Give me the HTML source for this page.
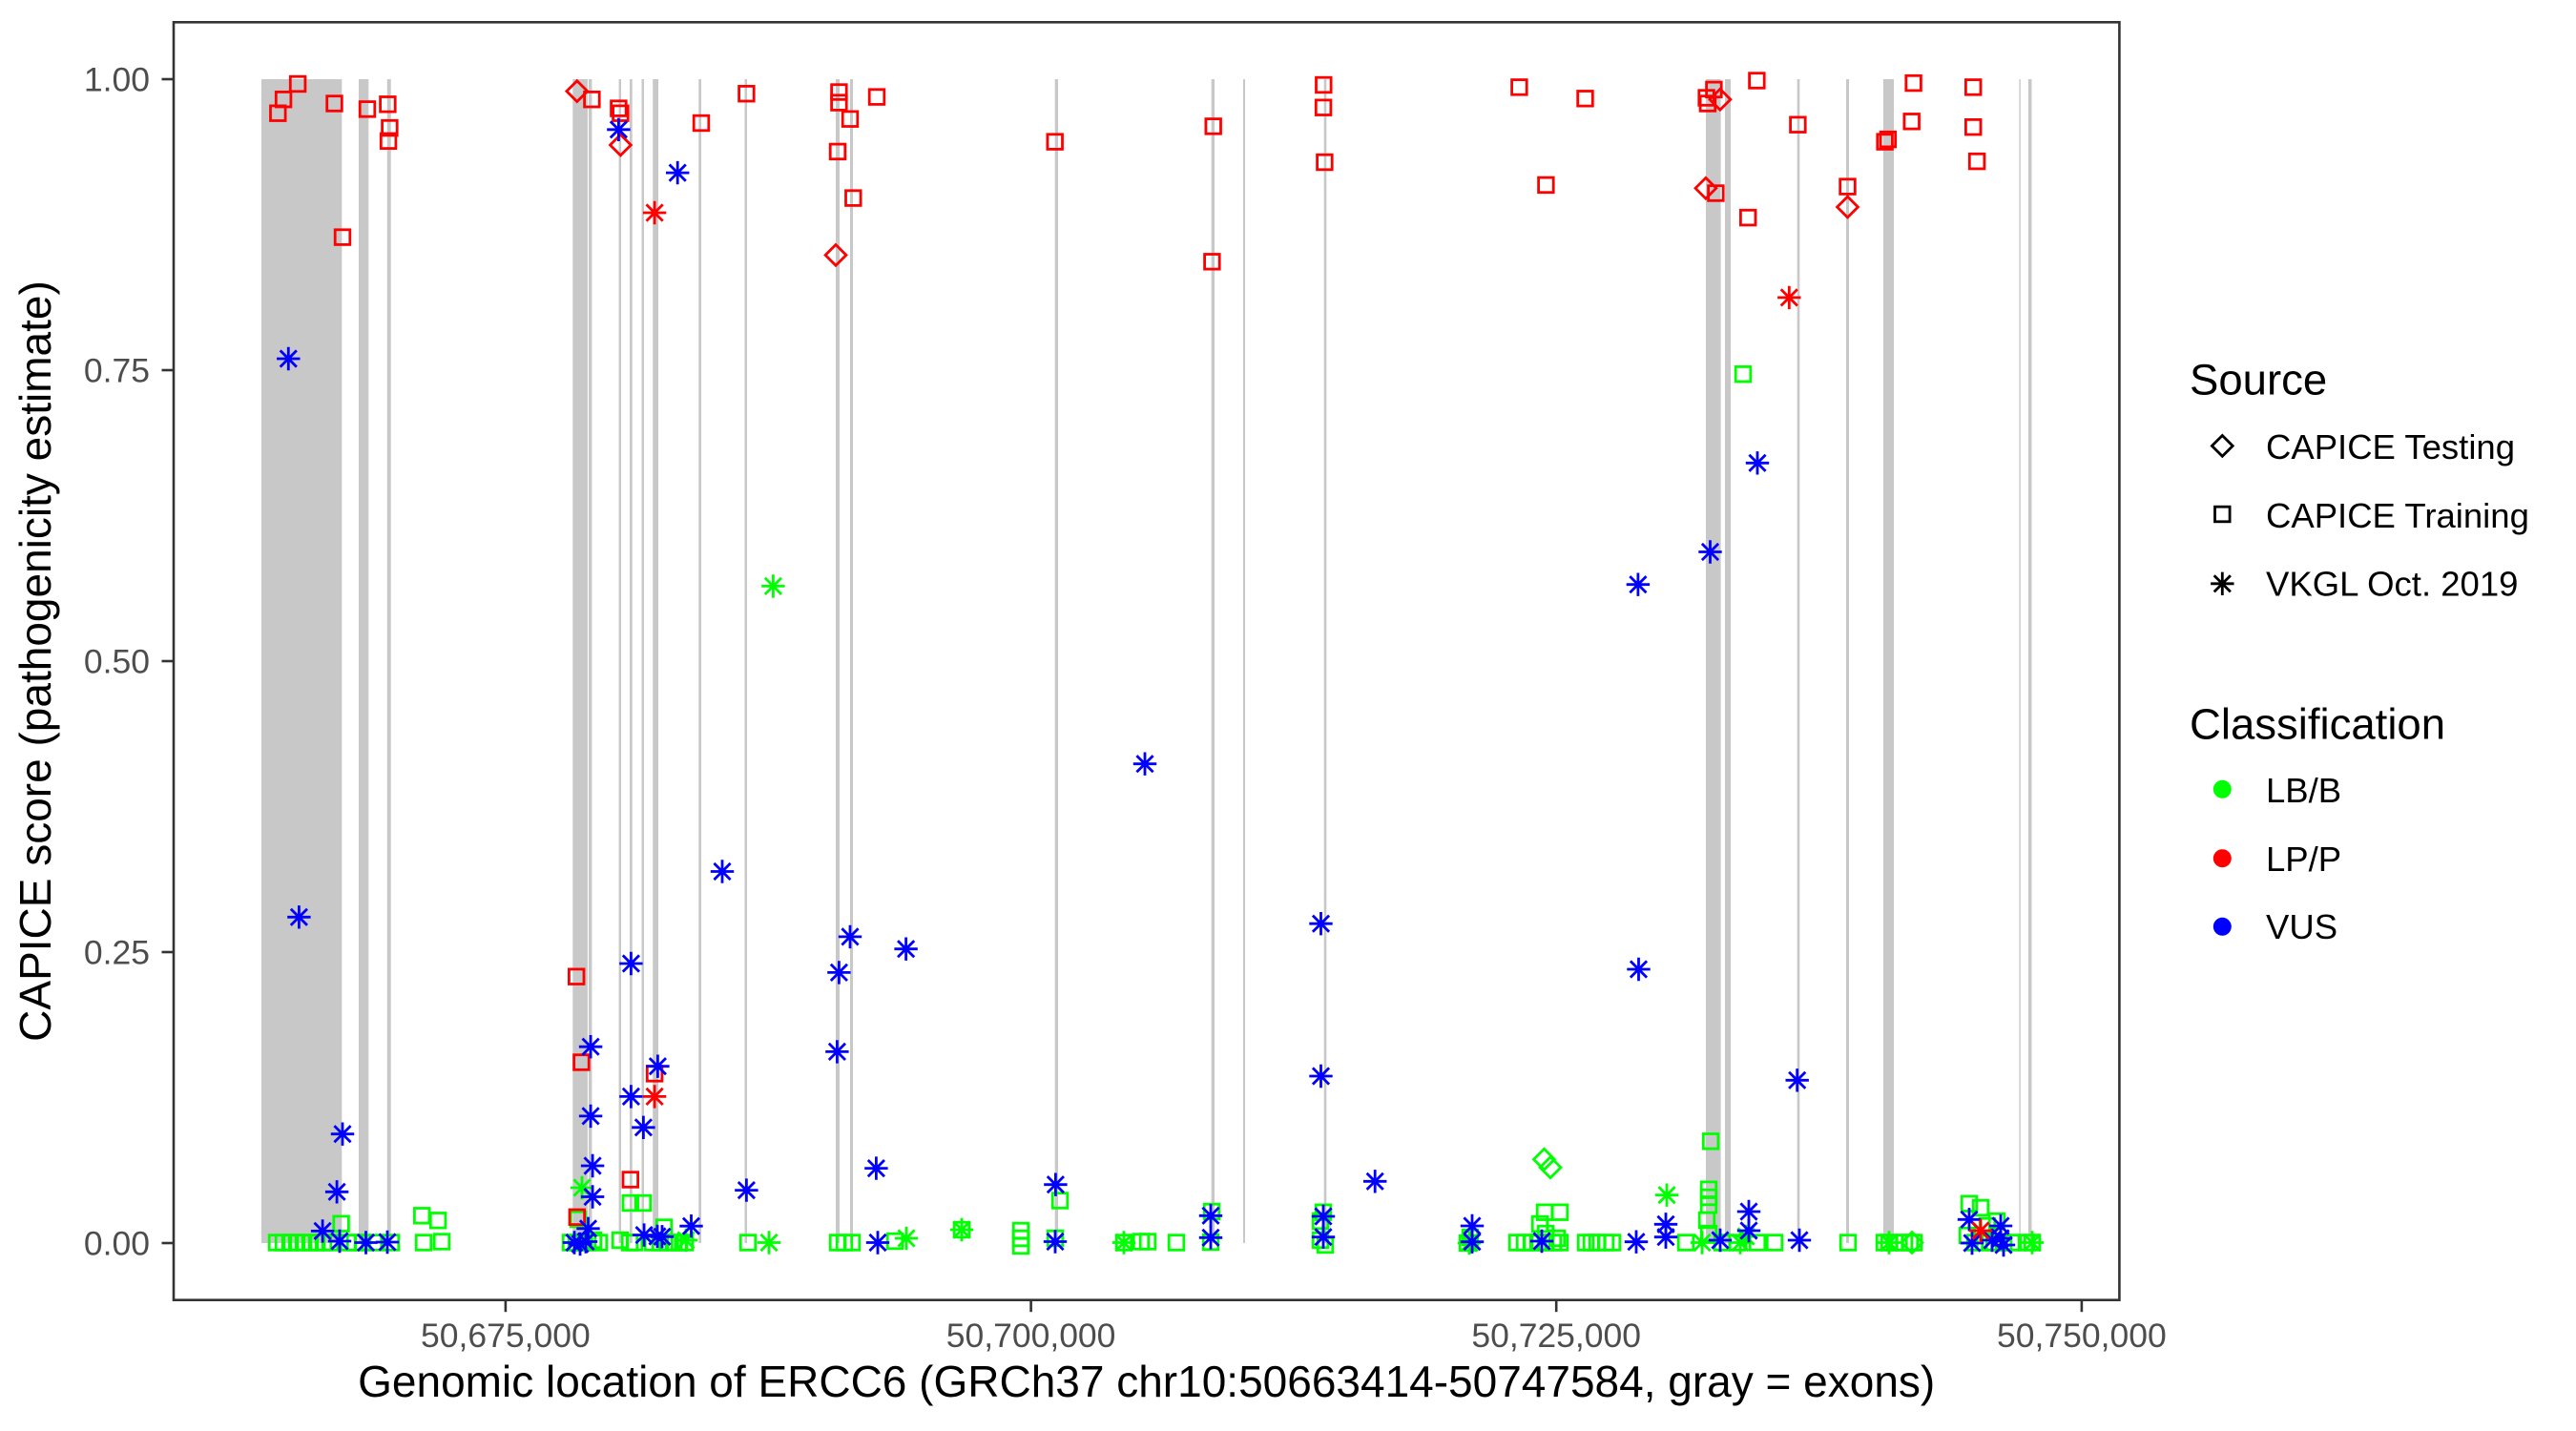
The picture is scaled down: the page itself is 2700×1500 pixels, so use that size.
<!DOCTYPE html>
<html>
<head>
<meta charset="utf-8">
<style>
html,body{margin:0;padding:0;background:#fff;}
svg{display:block;}
text{font-family:"Liberation Sans",Arial,sans-serif;}
.g{stroke:#00FF00;}
.r{stroke:#FF0000;}
.b{stroke:#0000FF;}
.k{stroke:#000;}
use{fill:none;stroke-width:2.8;}
</style>
</head>
<body>
<svg width="2700" height="1500" viewBox="0 0 2700 1500" xmlns="http://www.w3.org/2000/svg">
<defs>
<rect id="sq" x="-7.8" y="-7.8" width="15.6" height="15.6"/>
<path id="dm" d="M0,-10.9L10.9,0L0,10.9L-10.9,0Z"/>
<path id="as" d="M0,-12.2V12.2M-12.2,0H12.2M-8.6,-8.6L8.6,8.6M-8.6,8.6L8.6,-8.6"/>
</defs>
<rect x="0" y="0" width="2700" height="1500" fill="#fff"/>

<!-- exon bands -->
<g fill="#C8C8C8">
<rect x="274" y="83" width="84.3" height="1220"/>
<rect x="376" y="83" width="10.3" height="1220"/>
<rect x="405.8" y="83" width="3.9" height="1220"/>
<rect x="600.3" y="83" width="15.6" height="1220"/>
<rect x="617" y="83" width="3.4" height="1220"/>
<rect x="648.6" y="83" width="2.4" height="1220"/>
<rect x="660" y="83" width="2.7" height="1220"/>
<rect x="672.5" y="83" width="2.5" height="1220"/>
<rect x="684.2" y="83" width="5.8" height="1220"/>
<rect x="732.3" y="83" width="2.7" height="1220"/>
<rect x="780.5" y="83" width="2.5" height="1220"/>
<rect x="876" y="83" width="4" height="1220"/>
<rect x="891" y="83" width="3" height="1220"/>
<rect x="1105.7" y="83" width="3.3" height="1220"/>
<rect x="1269.7" y="83" width="3.3" height="1220"/>
<rect x="1303" y="83" width="2" height="1220"/>
<rect x="1387.7" y="83" width="2.6" height="1220"/>
<rect x="1788" y="83" width="15.6" height="1220"/>
<rect x="1808" y="83" width="6" height="1220"/>
<rect x="1883.7" y="83" width="2.6" height="1220"/>
<rect x="1935" y="83" width="3" height="1220"/>
<rect x="1974" y="83" width="11" height="1220"/>
<rect x="2116.4" y="83" width="1.4" height="1220"/>
<rect x="2126" y="83" width="3.5" height="1220"/>
</g>

<!-- green squares -->
<g>
<use href="#sq" class="g" x="290" y="1302.5"/><use href="#sq" class="g" x="297" y="1302.5"/><use href="#sq" class="g" x="304" y="1302.5"/><use href="#sq" class="g" x="311" y="1302.5"/><use href="#sq" class="g" x="318" y="1302.5"/><use href="#sq" class="g" x="325" y="1302.5"/><use href="#sq" class="g" x="332" y="1302.5"/><use href="#sq" class="g" x="339" y="1302.5"/><use href="#sq" class="g" x="346" y="1302.5"/>
<use href="#sq" class="g" x="357.6" y="1282.7"/><use href="#sq" class="g" x="365" y="1302.5"/><use href="#sq" class="g" x="372" y="1302.5"/><use href="#sq" class="g" x="380" y="1302.5"/><use href="#sq" class="g" x="392" y="1302.5"/><use href="#sq" class="g" x="410" y="1302.5"/>
<use href="#sq" class="g" x="442.2" y="1274.3"/><use href="#sq" class="g" x="459.1" y="1279.3"/><use href="#sq" class="g" x="444" y="1302.5"/><use href="#sq" class="g" x="463" y="1301.5"/>
<use href="#sq" class="g" x="598" y="1302.5"/><use href="#sq" class="g" x="604" y="1302.5"/><use href="#sq" class="g" x="610" y="1302.5"/><use href="#sq" class="g" x="616" y="1302.5"/><use href="#sq" class="g" x="622" y="1300"/><use href="#sq" class="g" x="628" y="1302.5"/><use href="#sq" class="g" x="606" y="1278"/>
<use href="#sq" class="g" x="660.8" y="1261"/><use href="#sq" class="g" x="674" y="1261"/><use href="#sq" class="g" x="696" y="1286.5"/>
<use href="#sq" class="g" x="650" y="1300"/><use href="#sq" class="g" x="660" y="1302.5"/><use href="#sq" class="g" x="665" y="1302.5"/><use href="#sq" class="g" x="684" y="1302.5"/><use href="#sq" class="g" x="692" y="1302.5"/><use href="#sq" class="g" x="700" y="1302.5"/><use href="#sq" class="g" x="706" y="1302.5"/><use href="#sq" class="g" x="712" y="1302.5"/><use href="#sq" class="g" x="718" y="1302.5"/>
<use href="#sq" class="g" x="784" y="1302.5"/><use href="#sq" class="g" x="878" y="1302.5"/><use href="#sq" class="g" x="885" y="1302.5"/><use href="#sq" class="g" x="893" y="1302.5"/><use href="#sq" class="g" x="938" y="1301"/>
<use href="#sq" class="g" x="1008" y="1289"/><use href="#sq" class="g" x="1070" y="1290"/><use href="#sq" class="g" x="1070" y="1298"/><use href="#sq" class="g" x="1070" y="1306"/><use href="#sq" class="g" x="1106" y="1298"/><use href="#sq" class="g" x="1111" y="1258.5"/><use href="#sq" class="g" x="1178" y="1302.5"/><use href="#sq" class="g" x="1196" y="1301.5"/><use href="#sq" class="g" x="1203" y="1301.5"/><use href="#sq" class="g" x="1233" y="1302.5"/>
<use href="#sq" class="g" x="1270" y="1270"/><use href="#sq" class="g" x="1269" y="1302"/><use href="#sq" class="g" x="1387" y="1270.7"/><use href="#sq" class="g" x="1384" y="1280"/><use href="#sq" class="g" x="1384" y="1300"/><use href="#sq" class="g" x="1389" y="1305"/>
<use href="#sq" class="g" x="1541" y="1297"/><use href="#sq" class="g" x="1538" y="1303"/>
<use href="#sq" class="g" x="1590" y="1302.5"/><use href="#sq" class="g" x="1598" y="1302.5"/><use href="#sq" class="g" x="1605" y="1302.5"/><use href="#sq" class="g" x="1612" y="1302.5"/><use href="#sq" class="g" x="1620" y="1302.5"/><use href="#sq" class="g" x="1628" y="1302.5"/><use href="#sq" class="g" x="1635" y="1302.5"/>
<use href="#sq" class="g" x="1619" y="1270.7"/><use href="#sq" class="g" x="1635" y="1270.7"/><use href="#sq" class="g" x="1614" y="1283"/><use href="#sq" class="g" x="1620" y="1293"/><use href="#sq" class="g" x="1632" y="1298"/>
<use href="#sq" class="g" x="1662" y="1302.5"/><use href="#sq" class="g" x="1668" y="1302.5"/><use href="#sq" class="g" x="1674" y="1302.5"/><use href="#sq" class="g" x="1683" y="1302.5"/><use href="#sq" class="g" x="1690" y="1302.5"/>
<use href="#sq" class="g" x="1767" y="1302.5"/><use href="#sq" class="g" x="1789" y="1279"/><use href="#sq" class="g" x="1791" y="1293"/><use href="#sq" class="g" x="1791" y="1246.7"/><use href="#sq" class="g" x="1791" y="1255"/><use href="#sq" class="g" x="1791" y="1263.3"/><use href="#sq" class="g" x="1793.1" y="1196.3"/><use href="#sq" class="g" x="1805" y="1302.5"/><use href="#sq" class="g" x="1821" y="1302.5"/><use href="#sq" class="g" x="1842" y="1302.5"/><use href="#sq" class="g" x="1860" y="1302.5"/>
<use href="#sq" class="g" x="1827" y="392.2"/>
<use href="#sq" class="g" x="1937" y="1302.5"/><use href="#sq" class="g" x="1975" y="1302.5"/><use href="#sq" class="g" x="1980" y="1302.5"/><use href="#sq" class="g" x="1986" y="1302.5"/><use href="#sq" class="g" x="1996" y="1302.5"/><use href="#sq" class="g" x="2002" y="1302.5"/><use href="#sq" class="g" x="2006" y="1302.5"/>
<use href="#sq" class="g" x="2064" y="1261.7"/><use href="#sq" class="g" x="2076" y="1266"/><use href="#sq" class="g" x="2062" y="1295"/><use href="#sq" class="g" x="2070" y="1302.5"/><use href="#sq" class="g" x="2080" y="1302.5"/><use href="#sq" class="g" x="2090" y="1302.5"/><use href="#sq" class="g" x="2100" y="1302.5"/><use href="#sq" class="g" x="2110" y="1302.5"/><use href="#sq" class="g" x="2124" y="1302.5"/><use href="#sq" class="g" x="2130" y="1302.5"/><use href="#sq" class="g" x="2083" y="1285"/><use href="#sq" class="g" x="2093" y="1280"/>
</g>
<!-- green diamonds & asterisks -->
<g>
<use href="#dm" class="g" x="1618.4" y="1215.2"/><use href="#dm" class="g" x="1625" y="1223.7"/><use href="#dm" class="g" x="2004" y="1302.5"/>
<use href="#as" class="g" x="810.4" y="614.4"/><use href="#as" class="g" x="610" y="1245"/><use href="#as" class="g" x="719" y="1300"/><use href="#as" class="g" x="806" y="1302.5"/><use href="#as" class="g" x="950" y="1298"/><use href="#as" class="g" x="1008" y="1289"/><use href="#as" class="g" x="1178" y="1302.5"/><use href="#as" class="g" x="1747" y="1252.7"/><use href="#as" class="g" x="1540" y="1303"/><use href="#as" class="g" x="1824" y="1302.5"/><use href="#as" class="g" x="1784" y="1302.5"/><use href="#as" class="g" x="1980" y="1302.5"/><use href="#as" class="g" x="2130" y="1302.5"/><use href="#as" class="g" x="1830" y="1296"/>
</g>

<!-- red -->
<g>
<use href="#sq" class="r" x="291.3" y="118.7"/><use href="#sq" class="r" x="297.1" y="104.2"/><use href="#sq" class="r" x="312.1" y="88"/><use href="#sq" class="r" x="350.5" y="108.5"/><use href="#sq" class="r" x="385" y="114.4"/><use href="#sq" class="r" x="406.4" y="109.3"/><use href="#sq" class="r" x="408.4" y="134.1"/><use href="#sq" class="r" x="407.1" y="147.8"/><use href="#sq" class="r" x="359" y="248.6"/>
<use href="#dm" class="r" x="604.8" y="95.6"/><use href="#dm" class="r" x="650.4" y="152"/>
<use href="#sq" class="r" x="620.4" y="104.2"/><use href="#sq" class="r" x="648.4" y="113.6"/><use href="#sq" class="r" x="650.4" y="118.7"/><use href="#sq" class="r" x="735" y="129"/><use href="#sq" class="r" x="782.4" y="98.2"/><use href="#sq" class="r" x="879.4" y="96.5"/><use href="#sq" class="r" x="879.4" y="107.6"/><use href="#sq" class="r" x="891" y="124.7"/><use href="#sq" class="r" x="919" y="101.6"/><use href="#sq" class="r" x="878" y="158.9"/><use href="#sq" class="r" x="894.3" y="207.6"/>
<use href="#dm" class="r" x="876" y="267.4"/>
<use href="#sq" class="r" x="1105.7" y="148.6"/>
<use href="#sq" class="r" x="604.2" y="1023.7"/><use href="#sq" class="r" x="609.4" y="1113.5"/><use href="#sq" class="r" x="686.1" y="1125.4"/><use href="#sq" class="r" x="660.8" y="1236.5"/><use href="#sq" class="r" x="604.8" y="1275.8"/>
<use href="#sq" class="r" x="1387.3" y="89"/><use href="#sq" class="r" x="1387.1" y="112.7"/><use href="#sq" class="r" x="1271.7" y="132.4"/><use href="#sq" class="r" x="1388.4" y="170"/><use href="#sq" class="r" x="1270.4" y="274.3"/><use href="#sq" class="r" x="1592.4" y="91.4"/><use href="#sq" class="r" x="1661.5" y="103.3"/><use href="#sq" class="r" x="1620.4" y="193.9"/><use href="#sq" class="r" x="1788.6" y="102.5"/><use href="#sq" class="r" x="1796.4" y="93.9"/><use href="#sq" class="r" x="1789.9" y="108.5"/>
<use href="#dm" class="r" x="1802.9" y="104.2"/>
<use href="#sq" class="r" x="1841.4" y="84.5"/><use href="#sq" class="r" x="1884.4" y="130.7"/>
<use href="#dm" class="r" x="1787.9" y="197.3"/>
<use href="#sq" class="r" x="1798.4" y="202.5"/><use href="#sq" class="r" x="1832.2" y="228.1"/><use href="#sq" class="r" x="2005.6" y="87.1"/><use href="#sq" class="r" x="2003.7" y="127.3"/><use href="#sq" class="r" x="1978.9" y="146.1"/><use href="#sq" class="r" x="1975.6" y="148.6"/><use href="#sq" class="r" x="1936.5" y="195.6"/>
<use href="#dm" class="r" x="1936.5" y="217"/>
<use href="#sq" class="r" x="2068.2" y="91.4"/><use href="#sq" class="r" x="2068.2" y="133.2"/><use href="#sq" class="r" x="2072.1" y="169.1"/>
<use href="#as" class="r" x="686.1" y="223"/><use href="#as" class="r" x="686.1" y="1149.4"/><use href="#as" class="r" x="1875.3" y="311.9"/>
</g>

<!-- blue asterisks -->
<g>
<use href="#as" class="b" x="648.4" y="135.8"/><use href="#as" class="b" x="710.2" y="181.1"/><use href="#as" class="b" x="302.3" y="376"/><use href="#as" class="b" x="1200" y="800.7"/><use href="#as" class="b" x="757" y="913.5"/><use href="#as" class="b" x="313.4" y="961.3"/><use href="#as" class="b" x="891" y="981.9"/><use href="#as" class="b" x="949.6" y="994.7"/><use href="#as" class="b" x="661.4" y="1010"/><use href="#as" class="b" x="879.4" y="1019.4"/><use href="#as" class="b" x="619.1" y="1097.2"/><use href="#as" class="b" x="877.4" y="1102.4"/><use href="#as" class="b" x="689.4" y="1117.7"/><use href="#as" class="b" x="661.4" y="1149.4"/><use href="#as" class="b" x="619.1" y="1169.9"/><use href="#as" class="b" x="674.4" y="1181.8"/><use href="#as" class="b" x="359" y="1188.7"/><use href="#as" class="b" x="621.1" y="1222"/><use href="#as" class="b" x="918.4" y="1224.6"/><use href="#as" class="b" x="1106.4" y="1241.7"/><use href="#as" class="b" x="353.1" y="1249.3"/><use href="#as" class="b" x="782.4" y="1247.6"/><use href="#as" class="b" x="621.1" y="1254.5"/><use href="#as" class="b" x="338.1" y="1290.4"/><use href="#as" class="b" x="616.5" y="1287.8"/><use href="#as" class="b" x="724.5" y="1285.2"/><use href="#as" class="b" x="675.1" y="1294.6"/><use href="#as" class="b" x="694" y="1296.3"/><use href="#as" class="b" x="689" y="1296"/>
<use href="#as" class="b" x="356" y="1301"/><use href="#as" class="b" x="383.5" y="1302.5"/><use href="#as" class="b" x="406" y="1302"/><use href="#as" class="b" x="602" y="1302.5"/><use href="#as" class="b" x="614" y="1301.5"/><use href="#as" class="b" x="608" y="1304"/><use href="#as" class="b" x="920" y="1302.5"/><use href="#as" class="b" x="1106" y="1301.5"/>
<use href="#as" class="b" x="1842" y="485.3"/><use href="#as" class="b" x="1792.5" y="578.5"/><use href="#as" class="b" x="1716.9" y="612.7"/><use href="#as" class="b" x="1384.5" y="968.2"/><use href="#as" class="b" x="1717.5" y="1016"/><use href="#as" class="b" x="1384.5" y="1128"/><use href="#as" class="b" x="1883.7" y="1132.3"/><use href="#as" class="b" x="1441.2" y="1238.3"/><use href="#as" class="b" x="1269" y="1274.3"/><use href="#as" class="b" x="1269" y="1297.3"/><use href="#as" class="b" x="1387" y="1275"/><use href="#as" class="b" x="1387" y="1296.7"/><use href="#as" class="b" x="1543" y="1285"/><use href="#as" class="b" x="1543" y="1301.7"/><use href="#as" class="b" x="1616" y="1301"/><use href="#as" class="b" x="1715" y="1301.7"/><use href="#as" class="b" x="1746" y="1283.3"/><use href="#as" class="b" x="1746" y="1296.7"/><use href="#as" class="b" x="1803" y="1300"/><use href="#as" class="b" x="1833" y="1270"/><use href="#as" class="b" x="1833" y="1290"/><use href="#as" class="b" x="1886" y="1300"/><use href="#as" class="b" x="2064" y="1278.3"/><use href="#as" class="b" x="2067" y="1303"/><use href="#as" class="b" x="2097" y="1285"/><use href="#as" class="b" x="2097" y="1298"/><use href="#as" class="b" x="2100" y="1305"/><use href="#as" class="b" x="2088" y="1300"/>
</g>
<use href="#as" class="r" x="2076" y="1290"/>

<!-- panel border -->
<rect x="182" y="23.3" width="2039.4" height="1339.4" fill="none" stroke="#333333" stroke-width="2.6"/>

<!-- ticks -->
<g stroke="#333333" stroke-width="2.6">
<line x1="169.5" y1="83" x2="182" y2="83"/>
<line x1="169.5" y1="388" x2="182" y2="388"/>
<line x1="169.5" y1="693" x2="182" y2="693"/>
<line x1="169.5" y1="998" x2="182" y2="998"/>
<line x1="169.5" y1="1303" x2="182" y2="1303"/>
<line x1="529.9" y1="1362.7" x2="529.9" y2="1375.2"/>
<line x1="1080.6" y1="1362.7" x2="1080.6" y2="1375.2"/>
<line x1="1631.2" y1="1362.7" x2="1631.2" y2="1375.2"/>
<line x1="2181.9" y1="1362.7" x2="2181.9" y2="1375.2"/>
</g>
<g fill="#4D4D4D" font-size="35.5" text-anchor="end">
<text x="157" y="95.7">1.00</text>
<text x="157" y="400.7">0.75</text>
<text x="157" y="705.7">0.50</text>
<text x="157" y="1010.7">0.25</text>
<text x="157" y="1315.7">0.00</text>
</g>
<g fill="#4D4D4D" font-size="35.5" text-anchor="middle">
<text x="529.9" y="1412">50,675,000</text>
<text x="1080.6" y="1412">50,700,000</text>
<text x="1631.2" y="1412">50,725,000</text>
<text x="2181.9" y="1412">50,750,000</text>
</g>

<!-- axis titles -->
<text x="1201.7" y="1464" font-size="46" text-anchor="middle" fill="#000">Genomic location of ERCC6 (GRCh37 chr10:50663414-50747584, gray = exons)</text>
<text transform="translate(53,693) rotate(-90)" font-size="46" text-anchor="middle" fill="#000">CAPICE score (pathogenicity estimate)</text>

<!-- legend -->
<text x="2295" y="413.5" font-size="45.5" fill="#000">Source</text>
<use href="#dm" class="k" x="2329.3" y="467.4"/>
<use href="#sq" class="k" x="2329.3" y="539"/>
<use href="#as" class="k" x="2329.3" y="611.8"/>
<g font-size="36.5" fill="#000">
<text x="2375" y="481.2">CAPICE Testing</text>
<text x="2375" y="552.8">CAPICE Training</text>
<text x="2375" y="624.4">VKGL Oct. 2019</text>
</g>
<text x="2295" y="774.7" font-size="45.5" fill="#000">Classification</text>
<circle cx="2329.3" cy="827.3" r="9.5" fill="#00FF00"/>
<circle cx="2329.3" cy="899.7" r="9.5" fill="#FF0000"/>
<circle cx="2329.3" cy="971.3" r="9.5" fill="#0000FF"/>
<g font-size="36.5" fill="#000">
<text x="2375" y="840.8">LB/B</text>
<text x="2375" y="912.8">LP/P</text>
<text x="2375" y="984">VUS</text>
</g>
</svg>
</body>
</html>
